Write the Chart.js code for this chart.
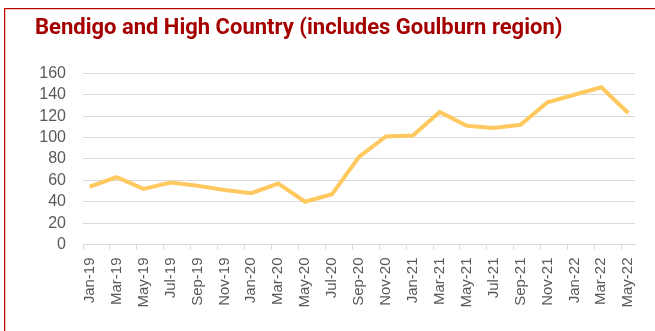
<!DOCTYPE html>
<html>
<head>
<meta charset="utf-8">
<script src="https://cdn.jsdelivr.net/npm/chart.js@4.4.1/dist/chart.umd.min.js"></script>
<style>
  html, body { margin: 0; padding: 0; background: #fff; }
  #wrap { position: relative; width: 655px; height: 331px; overflow: hidden; }
  #frame {
    position: absolute; left: 4px; top: 8px; width: 700px; height: 400px;
    border-left: 1px solid #c00000; border-top: 1px solid #c00000;
    box-shadow: inset 1px 1px 0 #f0c8c8;
    pointer-events: none;
  }
  canvas { position: absolute; left: 0; top: 0; }
</style>
</head>
<body>
<div id="wrap">
  <div id="frame"></div>
  <canvas id="chart-region" width="655" height="331"></canvas>
</div>
<script>
  "use strict";

  // 月次の軸（2か月ごとにラベル表示）
  var months = [
    'Jan-19', 'Feb-19', 'Mar-19', 'Apr-19', 'May-19', 'Jun-19', 'Jul-19', 'Aug-19', 'Sep-19', 'Oct-19', 'Nov-19', 'Dec-19',
    'Jan-20', 'Feb-20', 'Mar-20', 'Apr-20', 'May-20', 'Jun-20', 'Jul-20', 'Aug-20', 'Sep-20', 'Oct-20', 'Nov-20', 'Dec-20',
    'Jan-21', 'Feb-21', 'Mar-21', 'Apr-21', 'May-21', 'Jun-21', 'Jul-21', 'Aug-21', 'Sep-21', 'Oct-21', 'Nov-21', 'Dec-21',
    'Jan-22', 'Feb-22', 'Mar-22', 'Apr-22', 'May-22'
  ];

  // 観測月と値
  var obsMonths = [
    'Jan-19', 'Mar-19', 'May-19', 'Jul-19', 'Sep-19', 'Nov-19',
    'Jan-20', 'Mar-20', 'May-20', 'Jul-20', 'Sep-20', 'Nov-20',
    'Jan-21', 'Mar-21', 'May-21', 'Jul-21', 'Sep-21', 'Nov-21',
    'Jan-22', 'Mar-22', 'May-22'
  ];
  var obsValues = [
    54, 63, 52, 58, 55, 51,
    48, 57, 40, 47, 82, 101,
    102, 124, 111, 109, 112, 133,
    140, 147, 123
  ];

  var yTicks = [0, 20, 40, 60, 80, 100, 120, 140, 160];

  var AXIS_GREY = '#d9d9d9';
  var TEXT_GREY = '#595959';
  var LINE_COLOR = '#ffc960';
  var TITLE_COLOR = '#a50000';

  var points = obsMonths.map(function(m, i) { return { x: m, y: obsValues[i] }; });

  new Chart(document.getElementById('chart-region'), {
    type: 'line',
    data: {
      labels: months,
      datasets: [{
        label: 'Bendigo and High Country',
        data: points,
        borderColor: LINE_COLOR,
        borderWidth: 4,
        pointRadius: 0,
        tension: 0,
        fill: false
      }]
    },
    options: {
      responsive: false,
      animation: false,
      layout: { padding: { left: 35, right: 20, top: 0, bottom: 0 } },
      plugins: {
        legend: { display: false },
        tooltip: { enabled: false },
        title: {
          display: true,
          text: 'Bendigo and High Country (includes Goulburn region)',
          align: 'start',
          color: TITLE_COLOR,
          font: { family: "'Liberation Sans Narrow', 'Roboto', sans-serif", size: 22, weight: 'bold' },
          padding: { top: 15, bottom: 32 }
        }
      },
      scales: {
        x: {
          type: 'category',
          offset: true,
          grid: {
            offset: true,
            drawOnChartArea: false,
            drawTicks: true,
            tickLength: 5,
            tickColor: function(ctx) { return ctx.index % 2 === 0 ? AXIS_GREY : 'rgba(0,0,0,0)'; }
          },
          border: { display: true, color: AXIS_GREY, width: 1 },
          ticks: {
            autoSkip: false,
            minRotation: 90,
            maxRotation: 90,
            padding: 8,
            color: TEXT_GREY,
            font: { family: "'Liberation Sans Narrow', 'Liberation Sans', sans-serif", size: 15 },
            callback: function(val, idx) { return idx % 2 === 0 ? months[idx] : ''; }
          },
          afterFit: function(scale) { scale.height = 86.5; }
        },
        y: {
          min: 0,
          max: 160,
          afterBuildTicks: function(scale) {
            scale.ticks = yTicks.map(function(v) { return { value: v }; });
          },
          grid: { color: AXIS_GREY, lineWidth: 1, drawTicks: false },
          border: { display: false },
          ticks: {
            autoSkip: false,
            padding: 17,
            color: TEXT_GREY,
            font: { family: "'Liberation Sans', Arial, sans-serif", size: 16 }
          },
          afterFit: function(scale) { scale.width = 48; }
        }
      }
    }
  });
</script>
</body>
</html>
